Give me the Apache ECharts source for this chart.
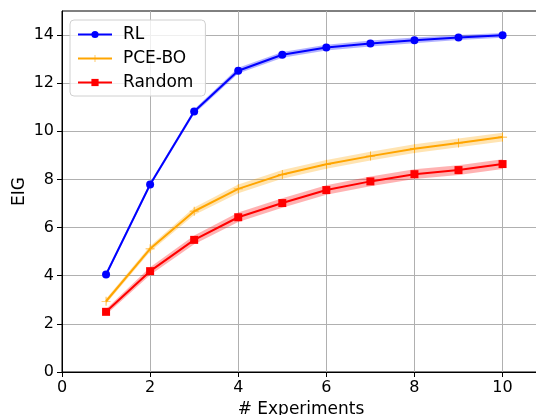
<!DOCTYPE html>
<html>
<head>
<meta charset="utf-8">
<script src="https://cdn.jsdelivr.net/npm/echarts@6/dist/echarts.min.js"></script>
<style>
  html, body { margin: 0; padding: 0; background: #fff; }
  #chart { width: 536px; height: 415px; }
</style>
</head>
<body>
<div id="chart"></div>
<script>
// experiments on x axis
const experiments = [1, 2, 3, 4, 5, 6, 7, 8, 9, 10];

// mean EIG per method
const rlMean     = [4.05, 7.79, 10.82, 12.52, 13.18, 13.48, 13.65, 13.78, 13.90, 13.99];
const pceboMean  = [2.94, 5.12, 6.68, 7.61, 8.21, 8.63, 8.97, 9.28, 9.52, 9.76];
const randomMean = [2.50, 4.19, 5.49, 6.43, 7.02, 7.56, 7.92, 8.22, 8.39, 8.64];

// half width of the shaded band
const rlSpread     = [0.08, 0.08, 0.10, 0.12, 0.12, 0.12, 0.12, 0.12, 0.10, 0.10];
const pceboSpread  = [0.10, 0.12, 0.16, 0.18, 0.18, 0.18, 0.18, 0.18, 0.18, 0.18];
const randomSpread = [0.12, 0.16, 0.18, 0.20, 0.20, 0.20, 0.20, 0.20, 0.20, 0.20];

const xTicks = [0, 2, 4, 6, 8, 10];
const yTicks = [0, 2, 4, 6, 8, 10, 12, 14];

const plusIcon = 'path://M-0.08,-1H0.08V-0.08H1V0.08H0.08V1H-0.08V0.08H-1V-0.08H-0.08Z';

function pairs(ys) {
    return experiments.map((x, i) => [x, ys[i]]);
}

function band(name, mean, spread, color) {
    const data = experiments.map((x, i) => [x, mean[i] - spread[i], mean[i] + spread[i]]);
    return {
        name: name + '-band',
        type: 'custom',
        silent: true,
        z: 1,
        data: data,
        renderItem: function (params, api) {
            if (params.dataIndex !== 0) return null;
            const upper = data.map(d => api.coord([d[0], d[2]]));
            const lower = data.slice().reverse().map(d => api.coord([d[0], d[1]]));
            return {
                type: 'polygon',
                shape: { points: upper.concat(lower) },
                style: { fill: color, opacity: 0.3 }
            };
        }
    };
}

function line(name, ys, color, symbol, size) {
    return {
        name: name,
        type: 'line',
        data: pairs(ys),
        z: 3,
        symbol: symbol,
        symbolSize: size,
        showAllSymbol: true,
        lineStyle: { color: color, width: 2 },
        itemStyle: { color: color, borderWidth: 0, opacity: 1 },
        emphasis: { disabled: true }
    };
}

const chart = echarts.init(document.getElementById('chart'));

const option = {
    animation: false,
    textStyle: { fontFamily: 'DejaVu Sans' },
    grid: {
        left: 62,
        right: -4,
        top: 11,
        bottom: 43,
        outerBoundsMode: 'none',
        containLabel: false,
        show: true,
        borderColor: '#000',
        borderWidth: 1
    },
    legend: {
        orient: 'vertical',
        left: 70,
        top: 20,
        padding: [6, 12, 5, 7],
        itemGap: 7,
        itemWidth: 34,
        itemHeight: 9,
        borderColor: '#d0d0d0',
        borderWidth: 1,
        borderRadius: 4,
        backgroundColor: 'rgba(255,255,255,0.8)',
        textStyle: { fontSize: 17, color: '#000', padding: [0, 0, 0, 6] },
        data: ['RL', 'PCE-BO', 'Random']
    },
    xAxis: {
        type: 'value',
        min: 0,
        max: 10.85,
        interval: 2,
        name: '# Experiments',
        nameLocation: 'middle',
        nameGap: 29,
        nameMoveOverlap: false,
        nameTextStyle: { fontSize: 17, color: '#000' },
        axisLine: { onZero: false, lineStyle: { color: '#000', width: 1 } },
        axisTick: { show: true, length: 5, lineStyle: { color: '#000' }, customValues: xTicks },
        axisLabel: { fontSize: 16, color: '#000', margin: 8, customValues: xTicks },
        splitLine: { show: true, lineStyle: { color: '#b0b0b0', width: 1 } }
    },
    yAxis: {
        type: 'value',
        min: 0,
        max: 15,
        interval: 2,
        name: 'EIG',
        nameLocation: 'middle',
        nameGap: 34,
        nameMoveOverlap: false,
        nameTextStyle: { fontSize: 17, color: '#000' },
        axisLine: { show: true, onZero: false, lineStyle: { color: '#000', width: 1 } },
        axisTick: { show: true, length: 5, lineStyle: { color: '#000' }, customValues: yTicks },
        axisLabel: { fontSize: 16, color: '#000', margin: 8, customValues: yTicks },
        splitLine: { show: true, lineStyle: { color: '#b0b0b0', width: 1 } }
    },
    series: [
        band('RL', rlMean, rlSpread, '#0000ff'),
        band('PCE-BO', pceboMean, pceboSpread, '#ffa500'),
        band('Random', randomMean, randomSpread, '#ff0000'),
        line('RL', rlMean, '#0000ff', 'circle', 8),
        line('PCE-BO', pceboMean, '#ffa500', plusIcon, 9),
        line('Random', randomMean, '#ff0000', 'rect', 8)
    ]
};

chart.setOption(option);
</script>
</body>
</html>
